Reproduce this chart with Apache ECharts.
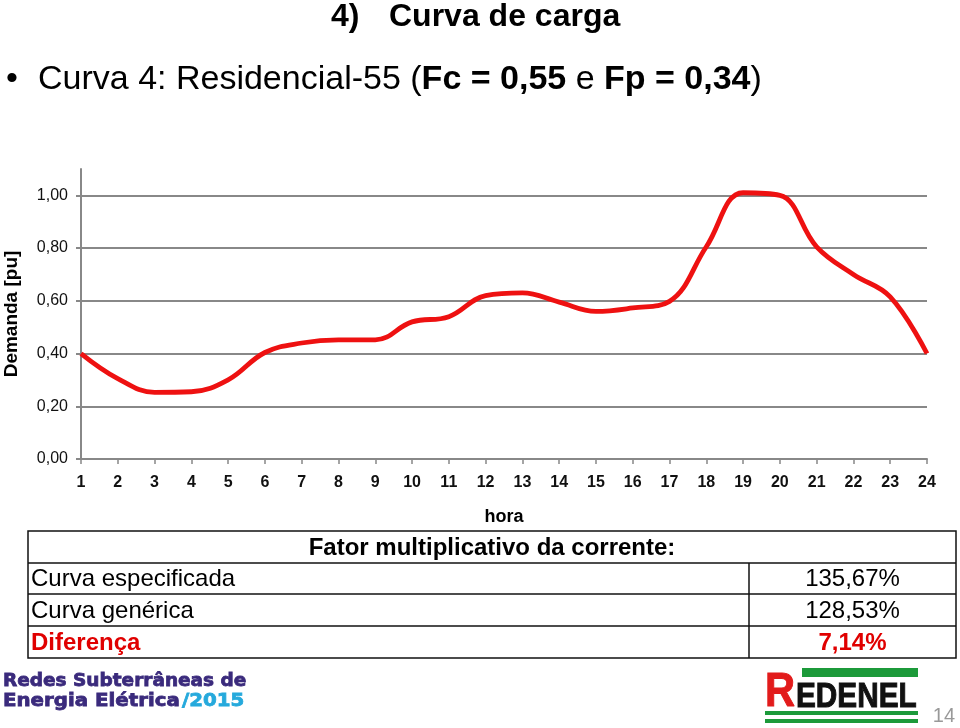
<!DOCTYPE html>
<html>
<head>
<meta charset="utf-8">
<script src="https://cdn.jsdelivr.net/npm/echarts@6/dist/echarts.min.js"></script>
<style>
html,body{margin:0;padding:0;background:#fff;}
#c{width:960px;height:728px;}
</style>
</head>
<body>
<div id="c"></div>
<script>
// ---- data ----
const hours = ['1','2','3','4','5','6','7','8','9','10','11','12','13','14','15','16','17','18','19','20','21','22','23','24'];
const demand = [0.40,0.305,0.253,0.255,0.30,0.404,0.44,0.452,0.452,0.52,0.54,0.62,0.63,0.595,0.56,0.573,0.598,0.805,1.01,1.00,0.805,0.70,0.615,0.40];
const yTicks = [0,0.2,0.4,0.6,0.8,1.0];
const tableHeader = 'Fator multiplicativo da corrente:';
const tableLabels = ['Curva especificada','Curva genérica','Diferença'];
const tableValues = ['135,67%','128,53%','7,14%'];

const FONT = '"Liberation Sans", Arial, sans-serif';
const chart = echarts.init(document.getElementById('c'), null, {renderer:'canvas'});

// table geometry
const tL = 28, tR = 956, tC = 749;
const rowsY = [531, 563, 594, 626, 658];
const tableGraphics = [];
tableGraphics.push({type:'rect', shape:{x:tL, y:rowsY[0], width:tR-tL, height:rowsY[4]-rowsY[0]}, style:{fill:'none', stroke:'#111', lineWidth:1.5}});
for (let i=1;i<4;i++) tableGraphics.push({type:'line', shape:{x1:tL,y1:rowsY[i],x2:tR,y2:rowsY[i]}, style:{stroke:'#111', lineWidth:1.5}});
tableGraphics.push({type:'line', shape:{x1:tC,y1:rowsY[1],x2:tC,y2:rowsY[4]}, style:{stroke:'#111', lineWidth:1.5}});
tableGraphics.push({type:'text', style:{text:tableHeader, x:(tL+tR)/2, y:(rowsY[0]+rowsY[1])/2+1, textAlign:'center', textVerticalAlign:'middle', font:'bold 24px '+FONT, fill:'#000'}});
tableLabels.forEach((lab,i)=>{
  const red = i===2;
  const cy = (rowsY[i+1]+rowsY[i+2])/2+1;
  tableGraphics.push({type:'text', style:{text:lab, x:tL+3, y:cy, textAlign:'left', textVerticalAlign:'middle', font:(red?'bold ':'')+'24px '+FONT, fill:red?'#e00000':'#000'}});
  tableGraphics.push({type:'text', style:{text:tableValues[i], x:(tC+tR)/2, y:cy, textAlign:'center', textVerticalAlign:'middle', font:(red?'bold ':'')+'24px '+FONT, fill:red?'#e00000':'#000'}});
});

const LOGO_FONT = 'bold 18.5px "DejaVu Sans", sans-serif';
const option = {
  backgroundColor:'#fff',
  animation:false,
  grid:{left:81, right:33, top:169, bottom:269, containLabel:false, outerBoundsMode:'none'},
  xAxis:{
    type:'category', data:hours, boundaryGap:false,
    axisLine:{show:true, lineStyle:{color:'#888', width:2}},
    axisTick:{show:true, length:5, lineStyle:{color:'#888', width:1.5}},
    axisLabel:{color:'#111', fontFamily:FONT, fontWeight:'bold', fontSize:16, margin:16},
    splitLine:{show:false},
    name:'hora', nameLocation:'middle', nameGap:49,
    nameTextStyle:{color:'#000', fontFamily:FONT, fontWeight:'bold', fontSize:18}
  },
  yAxis:{
    type:'value', min:0, max:1.1, interval:0.2,
    axisLine:{show:true, lineStyle:{color:'#888', width:2}},
    axisTick:{show:true, length:5, customValues:yTicks, lineStyle:{color:'#888', width:2}},
    axisLabel:{customValues:yTicks, color:'#111', fontFamily:FONT, fontSize:16, margin:13,
      formatter:v=>v.toFixed(2).replace('.',',')},
    splitLine:{show:true, lineStyle:{color:['#888','#888','#888','#888','#888','#888','rgba(0,0,0,0)'], width:2}},
    name:'Demanda [pu]', nameLocation:'middle', nameGap:60, nameRotate:90,
    nameTextStyle:{color:'#000', fontFamily:FONT, fontWeight:'bold', fontSize:19}
  },
  series:[{
    type:'line', data:demand, smooth:0.4, symbol:'none',
    lineStyle:{color:'#ee1111', width:4.8}
  }],
  graphic:[
    {type:'text', style:{text:'4)', x:331, y:17, textAlign:'left', textVerticalAlign:'middle', font:'bold 32px '+FONT, fill:'#000'}},
    {type:'text', style:{text:'Curva de carga', x:389, y:17, textAlign:'left', textVerticalAlign:'middle', font:'bold 32px '+FONT, fill:'#000'}},
    {type:'text', style:{text:'•', x:6, y:80, textAlign:'left', textVerticalAlign:'middle', font:'34px '+FONT, fill:'#000'}},
    {type:'text', style:{
      text:'{r|Curva 4: Residencial-55 (}{b|Fc = 0,55}{r| e }{b|Fp = 0,34}{r|)}',
      x:38, y:80, textAlign:'left', textVerticalAlign:'middle',
      rich:{r:{fontFamily:FONT, fontSize:34, fill:'#000', color:'#000'}, b:{fontFamily:FONT, fontSize:34, fontWeight:'bold', fill:'#000', color:'#000'}}
    }},
    ...tableGraphics,
    // bottom-left event logo text
    {type:'text', style:{text:'Redes Subterrâneas de', x:3, y:681, textAlign:'left', textVerticalAlign:'middle', font:LOGO_FONT, fill:'#3a2a7c', stroke:'#3a2a7c', lineWidth:0.8}},
    {type:'text', x:3, y:701, scaleX:1.07, style:{text:'Energia Elétrica', x:0, y:0, textAlign:'left', textVerticalAlign:'middle', font:LOGO_FONT, fill:'#3a2a7c', stroke:'#3a2a7c', lineWidth:0.8}},
    {type:'text', x:182, y:701, scaleX:1.07, style:{text:'/2015', x:0, y:0, textAlign:'left', textVerticalAlign:'middle', font:LOGO_FONT, fill:'#25a9dc', stroke:'#25a9dc', lineWidth:0.8}},
    // REDENEL logo
    {type:'rect', shape:{x:802, y:668, width:116, height:9}, style:{fill:'#1c9a3a'}},
    {type:'rect', shape:{x:765, y:711, width:153, height:4}, style:{fill:'#1c9a3a'}},
    {type:'rect', shape:{x:765, y:719, width:153, height:4}, style:{fill:'#1c9a3a'}},
    {type:'text', x:765, y:692, scaleX:0.85, style:{text:'R', x:0, y:0, textAlign:'left', textVerticalAlign:'middle', font:'bold 49px '+FONT, fill:'#e21b1b', stroke:'#e21b1b', lineWidth:1}},
    {type:'text', x:796, y:697, scaleX:0.85, style:{text:'EDENEL', x:0, y:0, textAlign:'left', textVerticalAlign:'middle', font:'bold 35px '+FONT, fill:'#111', stroke:'#111', lineWidth:1}},
    {type:'text', style:{text:'14', x:955, y:716, textAlign:'right', textVerticalAlign:'middle', font:'20px '+FONT, fill:'#999'}}
  ]
};
chart.setOption(option);
</script>
</body>
</html>
